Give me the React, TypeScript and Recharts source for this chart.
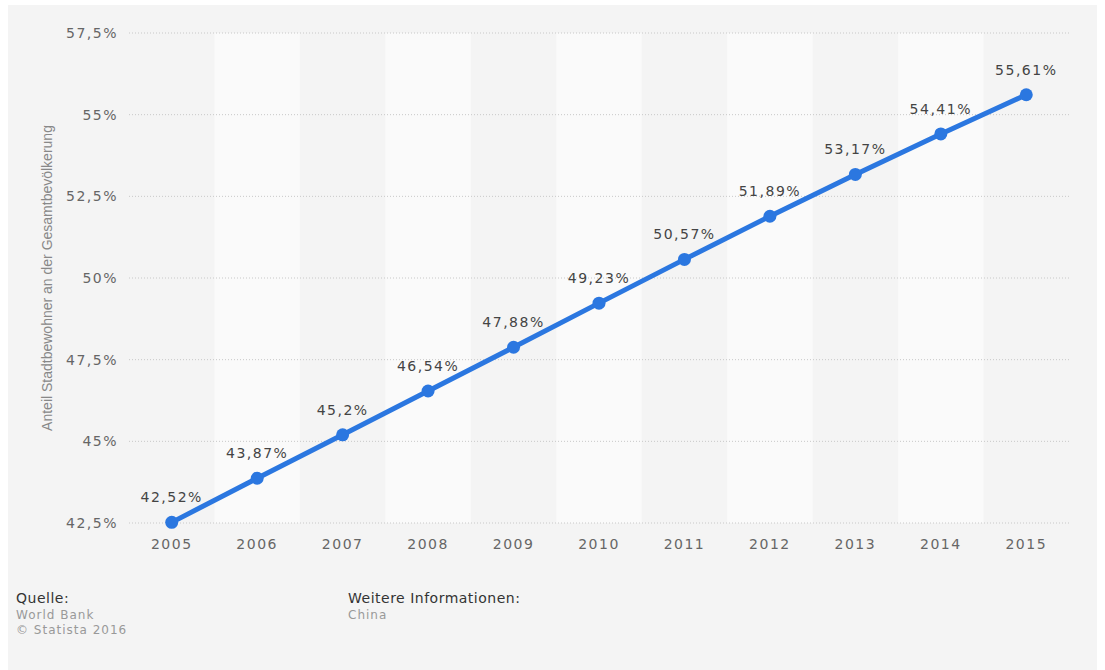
import React from "react";
import {
  ComposedChart,
  Line,
  XAxis,
  YAxis,
  CartesianGrid,
  ReferenceArea,
  LabelList,
  Label,
} from "recharts";

const years = ["2005", "2006", "2007", "2008", "2009", "2010", "2011", "2012", "2013", "2014", "2015"];
const urbanShare = [42.52, 43.87, 45.2, 46.54, 47.88, 49.23, 50.57, 51.89, 53.17, 54.41, 55.61];
const yTicks = [42.5, 45, 47.5, 50, 52.5, 55, 57.5];

const data = years.map((year, i) => ({ year, value: urbanShare[i] }));
const stripedYears = years.filter((_, i) => i % 2 === 1);

const fmt = (v: number) => `${String(v).replace(".", ",")}%`;

const FONT = "'DejaVu Sans', Verdana, sans-serif";

export default function App() {
  return (
    <div
      style={{
        position: "absolute",
        left: 8,
        top: 5,
        width: 1089,
        height: 665,
        background: "#f4f4f4",
        fontFamily: FONT,
      }}
    >
      <ComposedChart
        width={1089}
        height={560}
        data={data}
        margin={{ top: 28, right: 28, bottom: 12, left: 0 }}
      >
        {stripedYears.map((y) => (
          <ReferenceArea
            key={y}
            x1={y}
            x2={y}
            y1={42.5}
            y2={57.5}
            fill="#fafafa"
            fillOpacity={1}
            stroke="none"
            zIndex={-200}
          />
        ))}
        <CartesianGrid vertical={false} stroke="#c8c8c8" strokeDasharray="1 2" zIndex={-100} />
        <XAxis
          dataKey="year"
          scale="band"
          axisLine={false}
          tickLine={false}
          tickSize={0}
          tickMargin={16}
          height={30}
          tick={{ fill: "#666", fontSize: 14, letterSpacing: 1.5, fontFamily: FONT }}
        />
        <YAxis
          domain={[42.5, 57.5]}
          ticks={yTicks}
          tickFormatter={fmt}
          axisLine={false}
          tickLine={false}
          tickSize={0}
          tickMargin={11}
          width={121}
          tick={{ fill: "#666", fontSize: 14, letterSpacing: 1.5, fontFamily: FONT }}
        >
          <Label
            value="Anteil Stadtbewohner an der Gesamtbevölkerung"
            angle={-90}
            position="center"
            dx={-21}
            style={{ fill: "#888", fontSize: 14, fontFamily: "'Liberation Sans', Arial, sans-serif", textAnchor: "middle" }}
          />
        </YAxis>
        <Line
          type="linear"
          dataKey="value"
          stroke="#2b77e0"
          strokeWidth={5}
          dot={{ r: 6.5, fill: "#2b77e0", stroke: "none" }}
          activeDot={false}
          isAnimationActive={false}
        >
          <LabelList
            dataKey="value"
            position="top"
            offset={20}
            formatter={(v: number) => fmt(v)}
            style={{ fill: "#444", fontSize: 14, letterSpacing: 1.5, fontFamily: FONT }}
          />
        </Line>
      </ComposedChart>
      <div style={{ position: "absolute", left: 8, top: 585, fontSize: 14, color: "#333", letterSpacing: 0.5 }}>
        Quelle:
      </div>
      <div style={{ position: "absolute", left: 8, top: 603, fontSize: 12, color: "#999", letterSpacing: 1, lineHeight: "15px" }}>
        World Bank
        <br />© Statista 2016
      </div>
      <div style={{ position: "absolute", left: 340, top: 585, fontSize: 14, color: "#333", letterSpacing: 0.5 }}>
        Weitere Informationen:
      </div>
      <div style={{ position: "absolute", left: 340, top: 603, fontSize: 12, color: "#999", letterSpacing: 1, lineHeight: "15px" }}>
        China
      </div>
    </div>
  );
}
